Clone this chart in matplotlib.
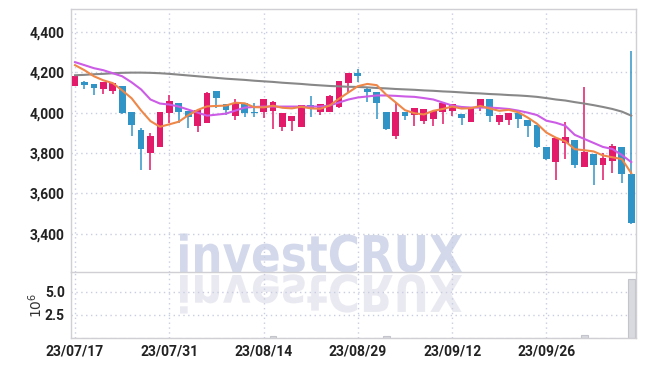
import matplotlib.pyplot as plt
import matplotlib.ticker as mticker
from matplotlib.textpath import TextPath
from matplotlib.patches import PathPatch
from matplotlib.font_manager import FontProperties
from matplotlib.transforms import Affine2D

# daily candles, 60 trading days from 23/07/17
opens = [4130, 4150, 4140, 4115, 4105, 4130, 4005, 3915, 3800, 3830,
         4000, 4050, 4010, 3935, 3950, 4105, 4045, 3985, 4050, 4005,
         4005, 4010, 3930, 3960, 3930, 4040, 4005, 4005, 4030, 4145,
         4195, 4115, 4100, 4005, 3885, 4005, 3990, 3960, 3970, 4005,
         4010, 3995, 3955, 4030, 4065, 3955, 3965, 4000, 3965, 3940,
         3830, 3755, 3850, 3865, 3730, 3795, 3740, 3760, 3830, 3695]
highs = [4180, 4155, 4140, 4150, 4145, 4130, 4005, 3925, 3900, 4005,
         4085, 4050, 4010, 4015, 4100, 4105, 4045, 4065, 4050, 4050,
         4065, 4060, 4000, 3985, 4040, 4080, 4045, 4085, 4155, 4195,
         4215, 4125, 4100, 4005, 4050, 4005, 4025, 4020, 4010, 4050,
         4045, 3995, 4030, 4065, 4065, 3990, 4000, 4000, 3965, 3940,
         3830, 3875, 3955, 3865, 4125, 3795, 3800, 3845, 3830, 4305]
lows = [4130, 4115, 4085, 4090, 4090, 3995, 3885, 3715, 3715, 3830,
        3950, 3950, 3925, 3905, 3950, 4025, 3990, 3965, 3980, 3980,
        3975, 3920, 3910, 3910, 3930, 3980, 3990, 4005, 4025, 4100,
        4150, 4055, 3970, 3915, 3870, 3965, 3935, 3945, 3935, 3945,
        3985, 3940, 3955, 4010, 3955, 3940, 3940, 3925, 3880, 3825,
        3765, 3665, 3770, 3725, 3730, 3640, 3665, 3700, 3650, 3450]
closes = [4180, 4135, 4120, 4150, 4145, 4000, 3940, 3820, 3885, 4005,
          4060, 4005, 3980, 4015, 4095, 4070, 4015, 4050, 4000, 4000,
          4065, 4055, 4000, 3985, 4040, 4025, 4045, 4080, 4155, 4195,
          4180, 4100, 4050, 3920, 4005, 3985, 4025, 4020, 4010, 4050,
          4045, 3975, 4030, 4065, 3985, 3990, 4000, 3970, 3935, 3830,
          3770, 3875, 3880, 3740, 3805, 3740, 3775, 3835, 3695, 3455]
# volume in millions
volume = [0.05, 0.05, 0.05, 0.05, 0.05, 0.05, 0.05, 0.05, 0.05, 0.05,
          0.05, 0.05, 0.05, 0.05, 0.05, 0.05, 0.05, 0.05, 0.05, 0.05,
          0.05, 0.25, 0.05, 0.05, 0.05, 0.05, 0.05, 0.05, 0.05, 0.05,
          0.05, 0.05, 0.05, 0.25, 0.05, 0.05, 0.05, 0.05, 0.05, 0.05,
          0.05, 0.05, 0.05, 0.05, 0.05, 0.05, 0.05, 0.05, 0.05, 0.05,
          0.05, 0.05, 0.05, 0.05, 0.35, 0.05, 0.05, 0.05, 0.05, 6.3]
# moving averages
ma5 = [4235, 4210, 4180, 4160, 4146, 4110, 4071, 4011, 3958, 3930,
       3942, 3955, 3987, 4013, 4031, 4033, 4035, 4049, 4046, 4027,
       4026, 4034, 4024, 4021, 4029, 4021, 4019, 4035, 4069, 4100,
       4131, 4142, 4136, 4089, 4051, 4012, 3997, 3991, 4009, 4018,
       4030, 4020, 4022, 4033, 4020, 4009, 4014, 4002, 3976, 3945,
       3901, 3876, 3858, 3819, 3814, 3808, 3788, 3779, 3770, 3700]
ma20 = [4250, 4235, 4220, 4210, 4195, 4180, 4150, 4115, 4065, 4045,
        4040, 4030, 4015, 4000, 3985, 3990, 3995, 4010, 4025, 4028,
        4030, 4030, 4030, 4030, 4030, 4030, 4030, 4035, 4050, 4065,
        4075, 4080, 4085, 4085, 4083, 4080, 4078, 4072, 4065, 4050,
        4035, 4028, 4025, 4025, 4025, 4022, 4018, 4010, 4000, 3988,
        3960, 3950, 3935, 3890, 3870, 3850, 3830, 3820, 3790, 3755]
ma120 = [4185, 4187, 4190, 4192, 4195, 4197, 4198, 4198, 4197, 4195,
         4192, 4188, 4184, 4180, 4176, 4172, 4168, 4165, 4162, 4158,
         4155, 4152, 4148, 4145, 4142, 4138, 4135, 4132, 4130, 4128,
         4127, 4125, 4122, 4120, 4117, 4115, 4113, 4110, 4108, 4105,
         4103, 4100, 4097, 4095, 4092, 4090, 4087, 4085, 4082, 4078,
         4072, 4065, 4060, 4052, 4045, 4037, 4028, 4018, 4005, 3985]
tick_pos = [0, 10, 20, 30, 40, 50]
tick_labels = ['23/07/17', '23/07/31', '23/08/14', '23/08/29', '23/09/12', '23/09/26']

up_col = '#e3196a'
down_col = '#3194c6'
grid_col = '#c9cde0'
spine_col = '#cfcfd4'
lbl_font = {'family': 'Roboto', 'weight': 'bold', 'size': 10}

fig = plt.figure(figsize=(6.45, 3.66), dpi=100)
ax = fig.add_axes([71/645, 1-272/366, 565/645, 263/366])
axv = fig.add_axes([71/645, 1-338/366, 565/645, 66/366], sharex=ax)

x = list(range(len(closes)))
cols = [up_col if c >= o else down_col for o, c in zip(opens, closes)]
bottoms = [min(o, c) for o, c in zip(opens, closes)]
heights = [max(abs(c - o), 5) for o, c in zip(opens, closes)]

ax.vlines(x, lows, highs, colors=cols, linewidth=1.1, zorder=3)
ax.bar(x, heights, bottom=bottoms, width=0.72, color=cols, zorder=4)
ax.plot(x, ma120, color='#888888', lw=1.5, zorder=5)
ax.plot(x, ma20, color='#cc5ce6', lw=1.5, zorder=5)
ax.plot(x, ma5, color='#ee8748', lw=1.5, zorder=5)

axv.bar(x, volume, width=0.72, color='#d9d9e0', edgecolor='#c4c4cc', linewidth=0.8)

ax.set_ylim(3211, 4513)
ax.set_xlim(-0.43, 59.5)
axv.set_ylim(0, 7.1)
ax.yaxis.set_major_locator(mticker.FixedLocator([3400, 3600, 3800, 4000, 4200, 4400]))
ax.yaxis.set_major_formatter(mticker.StrMethodFormatter('{x:,.0f}'))
axv.set_yticks([2.5, 5.0])
axv.set_yticklabels(['2.5', '5.0'])
axv.set_xticks(tick_pos)
axv.set_xticklabels(tick_labels)
axv.set_ylabel(r'$10^6$', fontsize=10, color='#333333', labelpad=0)
plt.setp(ax.get_xticklabels(), visible=False)

for a in (ax, axv):
    a.set_facecolor('none')
    a.grid(True, color=grid_col, linestyle=(0, (1, 2.5)), linewidth=1)
    a.set_axisbelow(True)
    a.tick_params(axis='y', length=0, pad=4.5, colors='#222222')
    a.tick_params(axis='x', length=0, pad=5, colors='#222222')
    for lab in a.get_xticklabels() + a.get_yticklabels():
        lab.set_fontproperties(FontProperties(**lbl_font))
    for s in a.spines.values():
        s.set_color(spine_col)
        s.set_linewidth(1)
ax.spines['bottom'].set_visible(False)

# watermark with its reflection
fp = FontProperties(family='DejaVu Sans', weight='bold')
tp = TextPath((0, 0), 'investCRUX', prop=fp, size=50)
bb = tp.get_extents()
sx = 282 / bb.width
sy = 37 / 36.5
x0 = 180 - bb.x0 * sx
base = 366 - 272
fig.add_artist(PathPatch(tp, transform=Affine2D().scale(sx, sy).translate(x0, base),
                         facecolor='#d3d9eb', edgecolor='none', zorder=-1))
fig.add_artist(PathPatch(tp, transform=Affine2D().scale(sx, -sy).translate(x0, base - 3),
                         facecolor='#e9e9f1', edgecolor='none', zorder=-1))

fig.savefig('out.png', dpi=100)
